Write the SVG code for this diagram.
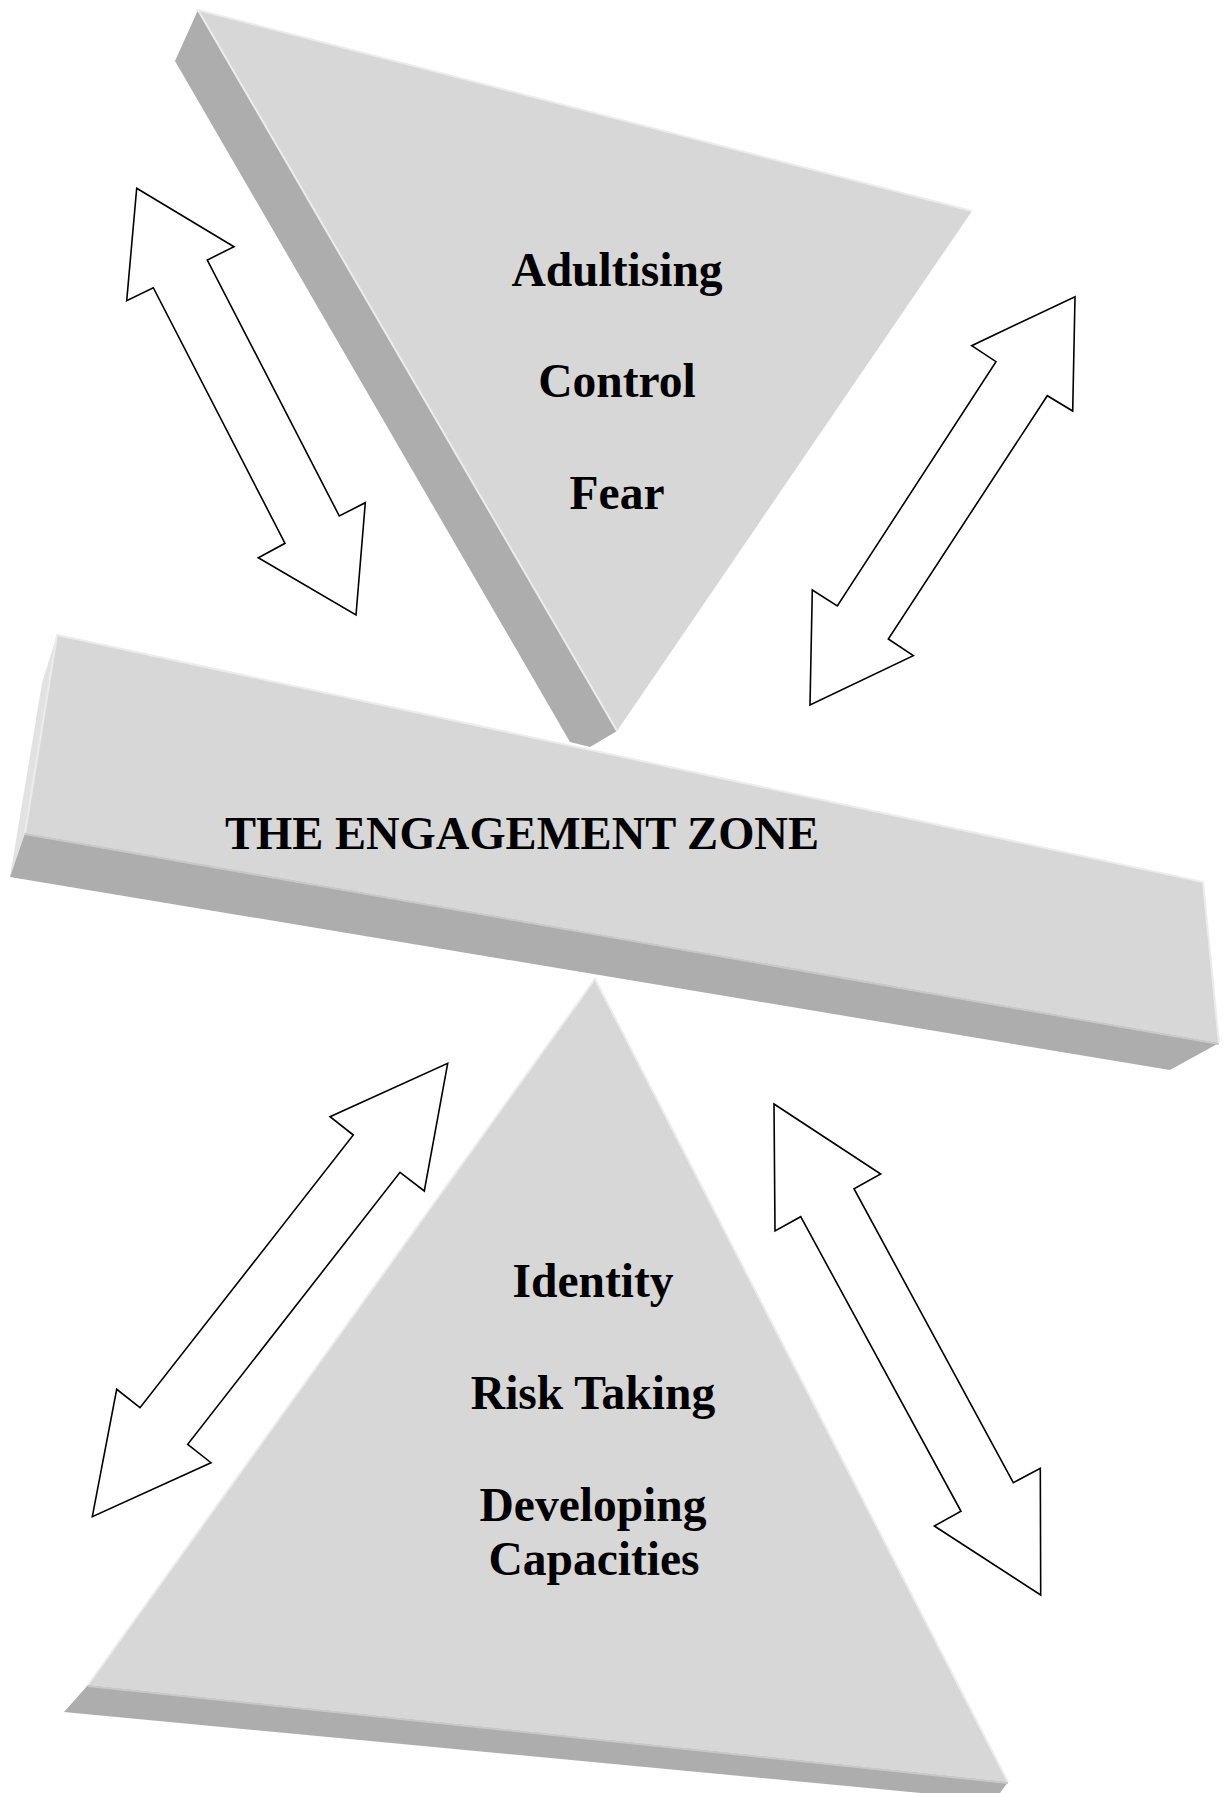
<svg xmlns="http://www.w3.org/2000/svg" width="1226" height="1793" viewBox="0 0 1226 1793">
<style>
.face{fill:#d7d7d7}
.side{fill:#adadad}
.bevel{fill:#e2e2e2}
.hl{fill:none;stroke:#ececec;stroke-width:2}
.arrow{fill:#ffffff;stroke:#000000;stroke-width:1.6;stroke-linejoin:miter}
.lbl{font-family:"Liberation Serif","Times New Roman",serif;font-weight:bold;font-size:47.5px;fill:#000000;text-anchor:middle}
</style>
<rect width="1226" height="1793" fill="#ffffff"/>
<g id="top-triangle">
<polygon class="side" points="198,10 175,61 570,742 590,747 617,731"/>
<polygon class="face" points="198,10 972,211 617,731"/>
<polyline class="hl" points="617,731 198,10 972,211"/>
<text class="lbl" x="617" y="286">Adultising</text>
<text class="lbl" x="617" y="397">Control</text>
<text class="lbl" x="617" y="509">Fear</text>
</g>
<g id="engagement-zone">
<polygon class="bevel" points="57,635 42,683 10,877 25,833"/>
<polygon class="side" points="25,833 1219,1043 1170,1070 10,877"/>
<polygon class="face" points="57,635 1203,882 1219,1043 25,833"/>
<polyline class="hl" points="25,833 57,635 1203,882 1219,1043"/>
<line x1="25" y1="834" x2="1219" y2="1044" stroke="#c8c8c8" stroke-width="2"/>
<text class="lbl" x="522" y="849" style="font-size:46.5px" textLength="594" lengthAdjust="spacingAndGlyphs">THE ENGAGEMENT ZONE</text>
</g>
<g id="bottom-triangle">
<polygon class="side" points="88,1685 1008,1782 995,1800 64,1712"/>
<polygon class="face" points="595,979 1008,1782 88,1685"/>
<polyline class="hl" points="88,1685 595,979 1008,1782"/>
<line x1="88" y1="1686" x2="1008" y2="1783" stroke="#c8c8c8" stroke-width="2"/>
<text class="lbl" x="593" y="1297">Identity</text>
<text class="lbl" x="593" y="1409">Risk Taking</text>
<text class="lbl" x="593" y="1521">Developing</text>
<text class="lbl" x="594" y="1575">Capacities</text>
</g>
<g id="connectors">
<polygon class="arrow" points="136.7,188.3 234,246.7 207.3,260 339.3,516 365.3,502.7 356,615 258.3,557.7 285,543.3 153.3,287.7 126.7,300.7"/>
<polygon class="arrow" points="1075,296.7 1072.7,411 1047.3,395.7 888.3,639 913.3,655.7 810,705 812.3,590 837.3,606 996,361.7 971.7,345.7"/>
<polygon class="arrow" points="447.7,1063.3 424.3,1191 400,1172.3 187.7,1444.3 211,1462.7 92.3,1516.7 116.7,1389.3 140,1407.7 353.3,1135 330,1116.7"/>
<polygon class="arrow" points="774,1104 880.7,1174 854,1188.7 1013.3,1482.7 1040.3,1468.3 1040.7,1595 934.3,1526 961,1511.3 800.7,1216.7 775,1231"/>
</g>
</svg>
